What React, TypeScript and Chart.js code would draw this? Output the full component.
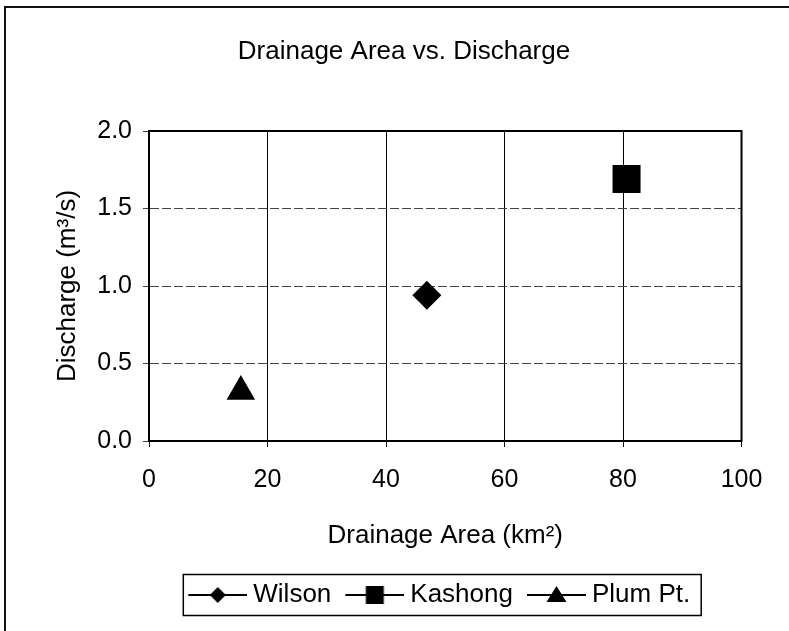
import React, { useEffect, useRef } from "react";
import { Chart, registerables } from "chart.js";

Chart.register(...registerables);

// ---- data ----
const seriesNames = ["Wilson", "Kashong", "Plum Pt."];
const drainageArea = [46.9, 80.6, 15.5]; // km²
const discharge = [0.94, 1.69, 0.32]; // m³/s
const xTickValues = [0, 20, 40, 60, 80, 100];
const yTickValues = [0, 0.5, 1.0, 1.5, 2.0];
const chartTitle = "Drainage Area vs. Discharge";
const xAxisTitle = "Drainage Area (km²)";
const yAxisTitle = "Discharge (m³/s)";

// ---- styles ----
const FONT = "'Liberation Sans', Arial, Helvetica, sans-serif";
const markerStyle: Record<string, { style: string; radius: number }> = {
  Wilson: { style: "rectRot", radius: 14.5 },
  Kashong: { style: "rect", radius: 19.8 },
  "Plum Pt.": { style: "triangle", radius: 16.5 },
};

function makeLegendIcon(style: string): HTMLCanvasElement {
  const c = document.createElement("canvas");
  c.width = 70;
  c.height = 30;
  const ctx = c.getContext("2d")!;
  ctx.strokeStyle = "#000";
  ctx.lineWidth = 2;
  ctx.beginPath();
  ctx.moveTo(11, 15);
  ctx.lineTo(70, 15);
  ctx.stroke();
  const cx = 40.5;
  const cy = 15;
  ctx.fillStyle = "#000";
  ctx.beginPath();
  if (style === "rectRot") {
    ctx.moveTo(cx, cy - 8);
    ctx.lineTo(cx + 8, cy);
    ctx.lineTo(cx, cy + 8);
    ctx.lineTo(cx - 8, cy);
    ctx.closePath();
  } else if (style === "rect") {
    ctx.rect(cx - 9, cy - 9, 18, 18);
  } else {
    ctx.moveTo(cx, cy - 9);
    ctx.lineTo(cx + 10, cy + 7);
    ctx.lineTo(cx - 10, cy + 7);
    ctx.closePath();
  }
  ctx.fill();
  return c;
}

const decorPlugin = {
  id: "decor",
  afterLayout(chart: any) {
    const t = chart.titleBlock;
    if (t) {
      t.left = 5;
      t.right = 803;
    }
    const lg = chart.legend;
    if (lg) {
      lg.left -= 8;
      lg.right -= 8;
    }
  },
  beforeDraw(chart: any) {
    const ctx = chart.ctx;
    ctx.save();
    ctx.strokeStyle = "#111";
    ctx.lineWidth = 2;
    ctx.beginPath();
    ctx.moveTo(5, 631);
    ctx.lineTo(5, 7);
    ctx.lineTo(789, 7);
    ctx.stroke();
    ctx.restore();
  },
  afterDraw(chart: any) {
    const ctx = chart.ctx;
    const ca = chart.chartArea;
    ctx.save();
    ctx.strokeStyle = "#000";
    ctx.lineWidth = 2;
    ctx.strokeRect(ca.left, ca.top, ca.right - ca.left, ca.bottom - ca.top);
    const hb = chart.legend && chart.legend.legendHitBoxes;
    if (hb && hb.length) {
      const first = hb[0];
      const last = hb[hb.length - 1];
      const left = first.left + 4 - 5;
      const right = last.left + last.width + 11;
      const cy = first.top + 13;
      ctx.lineWidth = 1.5;
      ctx.strokeRect(left, cy - 20.5, right - left, 41);
    }
    ctx.restore();
  },
};

export default function App() {
  const ref = useRef<HTMLCanvasElement | null>(null);

  useEffect(() => {
    if (!ref.current) return;
    const icons = seriesNames.map((n) => makeLegendIcon(markerStyle[n].style));
    const chart = new Chart(ref.current, {
      type: "scatter",
      data: {
        datasets: seriesNames.map((name, i) => ({
          label: name,
          data: [{ x: drainageArea[i], y: discharge[i] }],
          pointStyle: markerStyle[name].style as any,
          pointRadius: markerStyle[name].radius,
          pointHoverRadius: markerStyle[name].radius,
          backgroundColor: "#000",
          borderColor: "#000",
          borderWidth: 0,
          showLine: false,
        })),
      },
      options: {
        animation: false,
        responsive: false,
        events: [],
        color: "#000",
        font: { family: FONT },
        layout: { padding: { left: 5, right: 47.5, top: 0, bottom: 13 } },
        scales: {
          x: {
            type: "linear",
            min: xTickValues[0],
            max: xTickValues[xTickValues.length - 1],
            afterFit: (s: any) => {
              s.height = 131;
            },
            ticks: {
              stepSize: xTickValues[1] - xTickValues[0],
              color: "#000",
              font: { family: FONT, size: 25 },
              padding: 18,
              maxRotation: 0,
            },
            grid: { color: "#000", lineWidth: 1, tickLength: 6, tickColor: "#000" },
            border: { color: "#000", width: 2 },
            title: {
              display: true,
              text: xAxisTitle,
              color: "#000",
              font: { family: FONT, size: 26, lineHeight: 1.2 },
              padding: { top: 0, bottom: 20.4 },
            },
          },
          y: {
            type: "linear",
            min: yTickValues[0],
            max: yTickValues[yTickValues.length - 1],
            afterFit: (s: any) => {
              s.width = 144;
            },
            ticks: {
              stepSize: yTickValues[1] - yTickValues[0],
              color: "#000",
              font: { family: FONT, size: 25 },
              padding: 11,
              callback: (v: any) => Number(v).toFixed(1),
            },
            grid: { color: "#444", lineWidth: 1, tickLength: 6, tickColor: "#444" },
            border: { color: "#000", width: 2, dash: [9, 3] },
            title: {
              display: true,
              text: yAxisTitle,
              color: "#000",
              font: { family: FONT, size: 26, lineHeight: 1.2 },
              padding: { top: 47.4, bottom: 0 },
            },
          },
        },
        plugins: {
          title: {
            display: true,
            text: chartTitle,
            color: "#000",
            font: { family: FONT, size: 26, weight: "normal", lineHeight: 1.2 },
            padding: { top: 36.4, bottom: 63.4 },
          },
          legend: {
            display: true,
            position: "bottom",
            fullSize: false,
            labels: {
              usePointStyle: true,
              pointStyleWidth: 56,
              padding: 10,
              color: "#000",
              font: { family: FONT, size: 26 },
              generateLabels: (c: any) =>
                c.data.datasets.map((ds: any, i: number) => ({
                  text: ds.label,
                  pointStyle: icons[i],
                  datasetIndex: i,
                  hidden: false,
                  lineWidth: 0,
                  fillStyle: "#000",
                  strokeStyle: "#000",
                  fontColor: "#000",
                })),
            },
          },
          tooltip: { enabled: false },
        },
      } as any,
      plugins: [decorPlugin],
    });
    return () => chart.destroy();
  }, []);

  return (
    <div style={{ position: "absolute", left: 0, top: 0, width: 789, height: 631, background: "#fff" }}>
      <canvas ref={ref} width={789} height={631} style={{ display: "block" }} />
    </div>
  );
}
